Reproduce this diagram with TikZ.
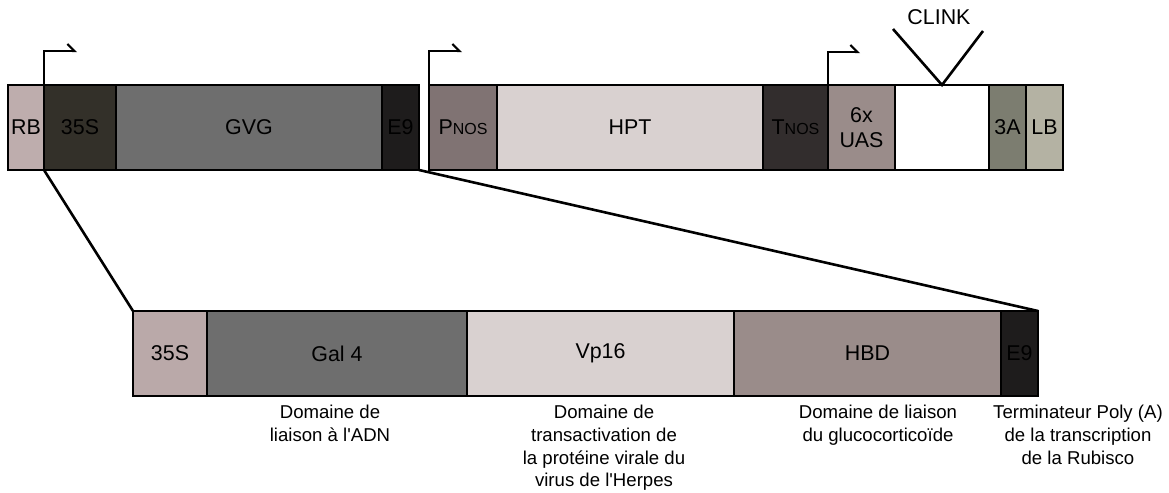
\documentclass[tikz,border=0pt]{standalone}
\usepackage{fontspec}
\setmainfont{Liberation Sans}
\usepackage{xcolor}
\usepackage{tikz}
\usetikzlibrary{positioning, arrows.meta}

\definecolor{rbcol}{HTML}{BEADAD}
\definecolor{darkcol}{HTML}{333029}
\definecolor{gvgcol}{HTML}{6E6E6E}
\definecolor{termcol}{HTML}{1E1C1C}
\definecolor{pnoscol}{HTML}{807373}
\definecolor{hptcol}{HTML}{D9D1D0}
\definecolor{tnoscol}{HTML}{322D2D}
\definecolor{uascol}{HTML}{9A8C8A}
\definecolor{threeacol}{HTML}{7C7D70}
\definecolor{lbcol}{HTML}{B4B2A3}
\definecolor{lowcol}{HTML}{BAA9A9}

\newcommand{\smallnos}{{\fontsize{8}{9}\selectfont NOS}}

\begin{document}
\begin{tikzpicture}[
    x=0.5pt, y=-0.5pt,
    seg/.style={rectangle, draw, line width=1.3pt, outer sep=0pt, inner sep=0pt, minimum height=42.5pt, align=center, font=\fontsize{10.7}{12.5}\selectfont},
    note/.style={anchor=north, inner sep=0pt, align=center, font=\fontsize{9.3}{11.3}\selectfont},
    zoomline/.style={line width=1.3pt},
    prom/.style={line width=1.1pt, -{Straight Barb[left, length=3.5pt, width=7pt]}}
]
    \useasboundingbox (0,0) rectangle (1169,493);
    % construct
    \node[seg, fill=rbcol, minimum width=18pt, anchor=north west] (rb) at (8,85) {RB};
    \node[seg, fill=darkcol, minimum width=36pt, right=0pt of rb] (p35) {35S};
    \node[seg, fill=gvgcol, minimum width=133pt, right=0pt of p35] (gvg) {GVG};
    \node[seg, fill=termcol, minimum width=18.5pt, right=0pt of gvg] (e9) {E9};
    \node[seg, fill=pnoscol, minimum width=34pt, right=5pt of e9] (pnos) {P\smallnos};
    \node[seg, fill=hptcol, minimum width=133pt, right=0pt of pnos] (hpt) {HPT};
    \node[seg, fill=tnoscol, minimum width=32.5pt, right=0pt of hpt] (tnos) {T\smallnos};
    \node[seg, fill=uascol, minimum width=33.5pt, right=0pt of tnos] (uas) {6x\\UAS};
    \node[seg, fill=white, minimum width=47pt, right=0pt of uas] (ins) {};
    \node[seg, fill=threeacol, minimum width=18.5pt, right=0pt of ins] (ta) {3A};
    \node[seg, fill=lbcol, minimum width=18.5pt, right=0pt of ta] (lb) {LB};
    % promoters
    \draw[prom] (p35.north west) |- ++(33,-34);
    \draw[prom] (pnos.north west) |- ++(33,-34);
    \draw[prom] (uas.north west) |- ++(32,-33);
    % CLINK insertion
    \coordinate (vl) at (893,29);
    \coordinate (vr) at (983,31);
    \draw[zoomline] (vl) -- (ins.north) -- (vr);
    \node[font=\fontsize{10.7}{12.5}\selectfont] (clink) at (939,17) {CLINK};
    % GVG detail
    \node[seg, fill=lowcol, minimum width=37pt, anchor=north west] (b35) at (133,311) {35S};
    \node[seg, fill=gvgcol, minimum width=130pt, right=0pt of b35] (gal) {Gal 4};
    \node[seg, fill=hptcol, minimum width=133.5pt, right=0pt of gal] (vp) {Vp16};
    \node[seg, fill=uascol, minimum width=133.5pt, right=0pt of vp] (hbd) {HBD};
    \node[seg, fill=termcol, minimum width=18.5pt, right=0pt of hbd] (be9) {E9};
    \draw[zoomline] (p35.south west) -- (b35.north west);
    \draw[zoomline] (e9.south east) -- (be9.north east);
    % notes
    \node[note] (ngal) at (330,405) {Domaine de\\liaison à l\textquotesingle ADN};
    \node[note] (nvp) at (604,405) {Domaine de\\transactivation de\\la protéine virale du\\virus de l\textquotesingle Herpes};
    \node[note] (nhbd) at (878,405) {Domaine de liaison\\du glucocorticoïde};
    \node[note] (ne9) at (1078,405) {Terminateur Poly (A)\\de la transcription\\de la Rubisco};
\end{tikzpicture}
\end{document}
